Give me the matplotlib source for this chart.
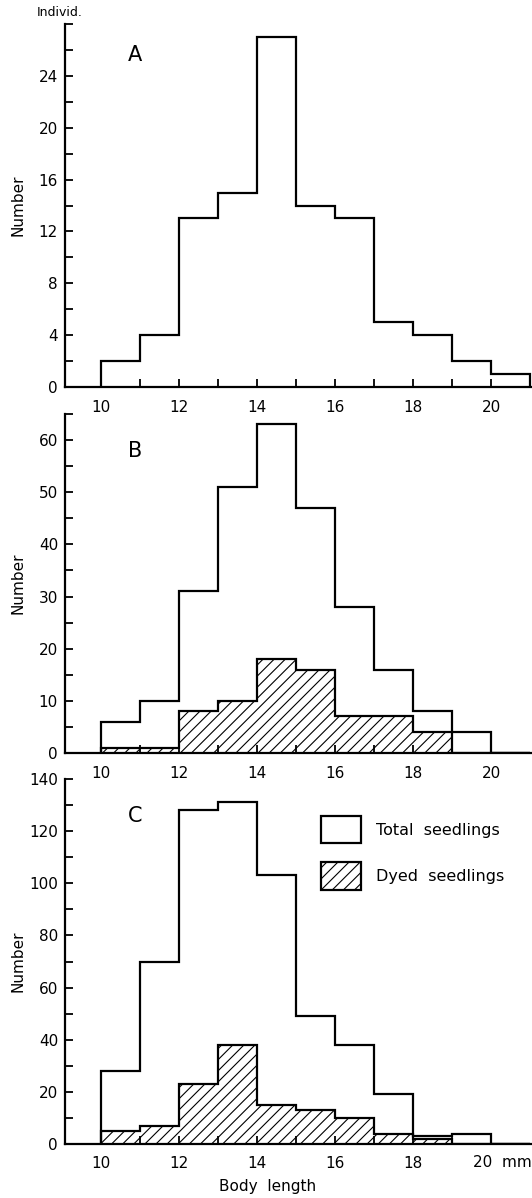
import numpy as np
import matplotlib
matplotlib.use("Agg")
import matplotlib.pyplot as plt
from matplotlib.patches import Rectangle
from matplotlib.ticker import FixedLocator

plt.rcParams['font.family'] = ['DejaVu Sans']
plt.rcParams['hatch.linewidth'] = 0.8

# size classes, 1 mm wide, 10 .. 21 mm
edges = np.arange(10, 22)

total_a = [2, 4, 13, 15, 27, 14, 13, 5, 4, 2, 1]

total_b = [6, 10, 31, 51, 63, 47, 28, 16, 8, 4, 0]
dyed_b = [1, 1, 8, 10, 18, 16, 7, 7, 4, 0, 0]

total_c = [28, 70, 128, 131, 103, 49, 38, 19, 3, 4, 0]
dyed_c = [5, 7, 23, 38, 15, 13, 10, 4, 2, 0, 0]

x_major = [10, 12, 14, 16, 18, 20]
x_minor = [11, 13, 15, 17, 19]

panels = [
    # letter, total, dyed, ymax, labelled ticks, minor step, rect (px: top, bottom)
    ('A', total_a, None, 28, np.arange(0, 25, 4), 2, (24, 387)),
    ('B', total_b, dyed_b, 65, np.arange(0, 61, 10), 5, (414, 753)),
    ('C', total_c, dyed_c, 140, np.arange(0, 141, 20), 10, (779, 1144)),
]

W, H = 532, 1198
fig = plt.figure(figsize=(W / 100, H / 100), dpi=100)

lw = 1.6
axes = []
for letter, total, dyed, ymax, yticks, ystep, (top, bot) in panels:
    ax = fig.add_axes([65 / W, 1 - bot / H, (W - 65) / W, (bot - top) / H])
    axes.append(ax)

    if dyed is not None:
        ax.stairs(dyed, edges, fill=True, facecolor='white', edgecolor='black',
                  hatch='///', linewidth=lw, baseline=0)
    ax.stairs(total, edges, fill=False, color='black', linewidth=lw, baseline=0)

    ax.set_xlim(9.08, 21.05)
    ax.set_ylim(0, ymax)
    ax.yaxis.set_major_locator(FixedLocator(yticks))
    ax.yaxis.set_minor_locator(FixedLocator(
        [v for v in np.arange(0, ymax + 0.1, ystep) if v not in yticks]))
    ax.xaxis.set_major_locator(FixedLocator(x_major))
    ax.xaxis.set_minor_locator(FixedLocator(x_minor))

    for s in ('top', 'right'):
        ax.spines[s].set_visible(False)
    for s in ('left', 'bottom'):
        ax.spines[s].set_linewidth(lw)
    ax.tick_params(which='both', direction='in', width=1.3, length=6,
                   labelsize=11)
    ax.tick_params(axis='y', pad=5)
    ax.tick_params(axis='x', pad=9)
    ax.patch.set_alpha(0)

    fig.text(135 / W, 1 - (top + (31 if letter == 'A' else 37)) / H, letter,
             fontsize=15, ha='center', va='center')
    fig.text(18 / W, 1 - (top + bot) / 2 / H, 'Number', fontsize=11,
             rotation=90, ha='center', va='center')

fig.text(60 / W, 1 - 12 / H, 'Individ.', fontsize=9, ha='center', va='center')

# bottom panel: unit after the last label, axis title, legend
ax = axes[2]
ax.set_xticks(x_major, ['10', '12', '14', '16', '18', ''])
ax.annotate('20  mm', xy=(20, 0), xycoords=('data', 'axes fraction'),
            xytext=(-18, -11), textcoords='offset pixels',
            ha='left', va='top', fontsize=11)
fig.text(268 / W, 1 - 1187 / H, 'Body  length', fontsize=11,
         ha='center', va='center')

fig.patches.append(Rectangle((321, H - 843), 40, 27, transform=None,
                             facecolor='white', edgecolor='black', linewidth=lw,
                             figure=fig))
fig.patches.append(Rectangle((321, H - 890), 40, 28, transform=None,
                             facecolor='white', edgecolor='black', linewidth=lw,
                             hatch='///', figure=fig))
fig.text(376 / W, 1 - 830 / H, 'Total  seedlings', fontsize=11.5, va='center')
fig.text(376 / W, 1 - 877 / H, 'Dyed  seedlings', fontsize=11.5, va='center')

fig.savefig('out.png', dpi=100)
